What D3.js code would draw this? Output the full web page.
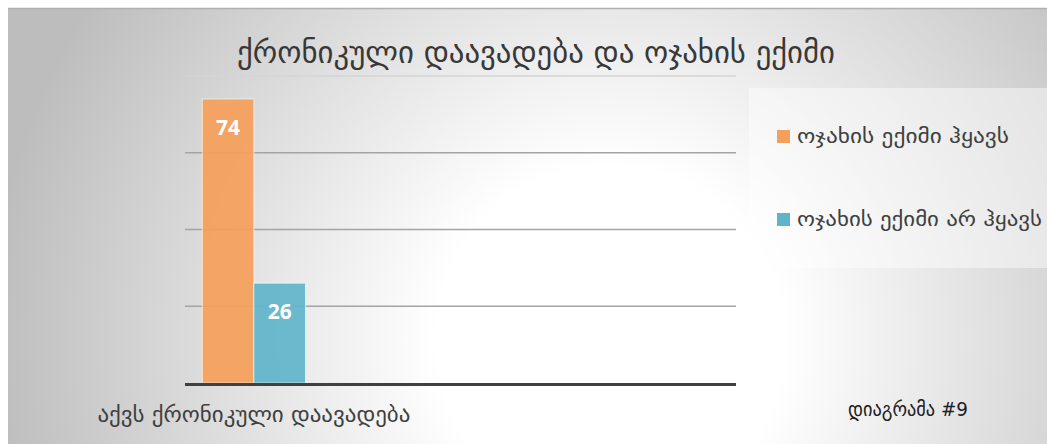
<!DOCTYPE html>
<html><head><meta charset="utf-8">
<script src="https://cdn.jsdelivr.net/npm/d3@7"></script>
<style>html,body{margin:0;padding:0;background:#fff;}svg{display:block;}</style>
</head><body>
<svg id="c" width="1047" height="444"></svg>
<script>
// ---- data ----
const categories = ["აქვს ქრონიკული დაავადება"];
const seriesNames = ["ოჯახის ექიმი ჰყავს", "ოჯახის ექიმი არ ჰყავს"];
const hasDoctor = [74];
const noDoctor = [26];
const yTicks = [0, 20, 40, 60, 80];
const titleText = "ქრონიკული დაავადება და ოჯახის ექიმი";
const noteText = "დიაგრამა #9";

const seriesValues = [hasDoctor, noDoctor];
const colors = ["#F5A05A", "#5FB4CA"];
const geoFont = "'DejaVu Sans Condensed','DejaVu Sans',sans-serif";

const svg = d3.select("#c");
const defs = svg.append("defs");
const rg = defs.append("radialGradient").attr("id", "bg")
  .attr("gradientUnits", "userSpaceOnUse")
  .attr("cx", 610).attr("cy", 340).attr("r", 620);
rg.append("stop").attr("offset", 0).attr("stop-color", "#ffffff");
rg.append("stop").attr("offset", 0.28).attr("stop-color", "#ffffff");
rg.append("stop").attr("offset", 1).attr("stop-color", "#bdbdbd");

// frame
svg.append("rect").attr("x", 8).attr("y", 8).attr("width", 1039).attr("height", 436).attr("fill", "url(#bg)");
svg.append("line").attr("x1", 8).attr("x2", 1047).attr("y1", 8.5).attr("y2", 8.5).attr("stroke", "#b0b0b0").attr("stroke-width", 1.5);

// plot geometry
const plotL = 185, plotR = 736, plotT = 76, plotB = 383;
const y = d3.scaleLinear().domain([0, 80]).range([plotB, plotT]);
// source chart reserves four category slots across the plot; data occupies the first
const x0 = d3.scaleBand().domain(categories).range([plotL, plotL + (plotR - plotL) / 4]);
const x1 = d3.scaleBand().domain(seriesNames).range([0, x0.bandwidth()]).paddingInner(0).paddingOuter(0.335);

// gridlines
svg.append("g").selectAll("line").data(yTicks.filter(t => t > 0)).join("line")
  .attr("x1", plotL).attr("x2", plotR)
  .attr("y1", d => y(d)).attr("y2", d => y(d))
  .attr("stroke", d => d === 80 ? "#d4d4d4" : "#a4a4a4").attr("stroke-width", 1.5);

// bars
const groups = svg.append("g").selectAll("g").data(categories).join("g")
  .attr("transform", d => `translate(${x0(d)},0)`);
seriesNames.forEach((s, si) => {
  groups.append("rect")
    .attr("x", x1(s)).attr("width", x1.bandwidth())
    .attr("y", (d, i) => y(seriesValues[si][i]))
    .attr("height", (d, i) => plotB - y(seriesValues[si][i]))
    .attr("fill", colors[si]).attr("fill-opacity", 0.92)
    .attr("stroke", "#ffffff").attr("stroke-opacity", 0.6).attr("stroke-width", 1);
  groups.append("text")
    .attr("x", x1(s) + x1.bandwidth() / 2)
    .attr("y", (d, i) => y(seriesValues[si][i]) + 36)
    .attr("text-anchor", "middle")
    .attr("font-family", "'Open Sans',sans-serif").attr("font-weight", 700)
    .attr("font-size", 21).attr("fill", "#ffffff")
    .text((d, i) => seriesValues[si][i]);
});

// axis line
svg.append("line").attr("x1", plotL).attr("x2", plotR).attr("y1", plotB + 1.5).attr("y2", plotB + 1.5)
  .attr("stroke", "#404040").attr("stroke-width", 3);

// category label
svg.append("g").selectAll("text").data(categories).join("text")
  .attr("x", d => x0(d) + x0.bandwidth() / 2).attr("y", 422)
  .attr("text-anchor", "middle").attr("font-family", geoFont).attr("font-size", 21)
  .attr("fill", "#404040")
  .attr("textLength", 313).attr("lengthAdjust", "spacingAndGlyphs")
  .text(d => d);

// title
svg.append("text").attr("x", 536).attr("y", 63).attr("text-anchor", "middle")
  .attr("font-family", geoFont).attr("font-size", 30).attr("fill", "#383838")
  .attr("textLength", 598).attr("lengthAdjust", "spacingAndGlyphs")
  .text(titleText);

// legend
svg.append("rect").attr("x", 749).attr("y", 88).attr("width", 298).attr("height", 180)
  .attr("fill", "#ffffff").attr("fill-opacity", 0.45);
const lg = svg.append("g").selectAll("g").data(seriesNames).join("g")
  .attr("transform", (d, i) => `translate(777,${130 + i * 83})`);
lg.append("rect").attr("width", 13).attr("height", 13).attr("fill", (d, i) => colors[i]);
lg.append("text").attr("x", 20).attr("y", 13)
  .attr("font-family", geoFont).attr("font-size", 20).attr("fill", "#404040")
  .attr("textLength", (d, i) => i === 0 ? 212 : 245).attr("lengthAdjust", "spacingAndGlyphs")
  .text(d => d);

// note
svg.append("text").attr("x", 848).attr("y", 416)
  .attr("font-family", geoFont).attr("font-size", 19).attr("fill", "#202020")
  .attr("textLength", 120).attr("lengthAdjust", "spacingAndGlyphs")
  .text(noteText);
</script>
</body></html>
